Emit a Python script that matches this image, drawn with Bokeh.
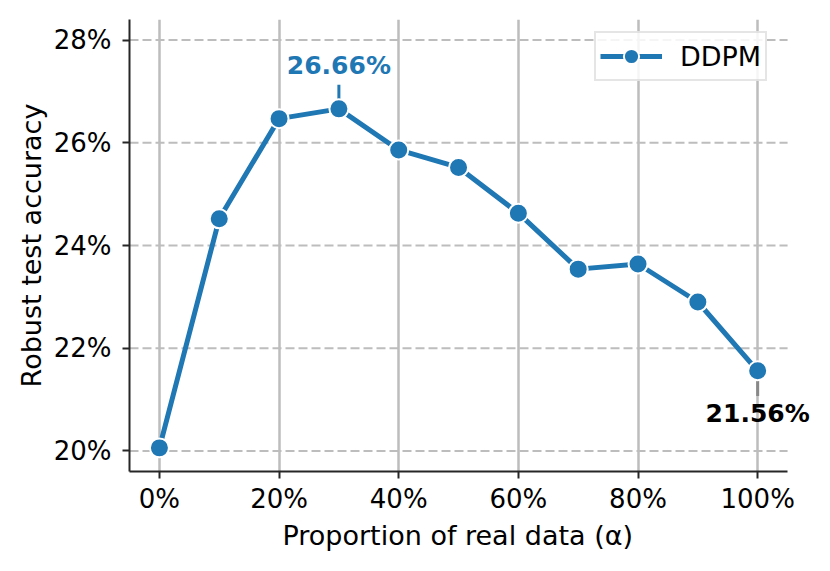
from bokeh.plotting import figure
from bokeh.models import (ColumnDataSource, Range1d, FixedTicker, Legend, LegendItem,
                          CustomJSTickFormatter, Label, Title)
from bokeh.embed import file_html
from bokeh.resources import INLINE

# ---- data ----
proportion = [0, 10, 20, 30, 40, 50, 60, 70, 80, 90, 100]
robust_acc = [20.06, 24.52, 26.47, 26.66, 25.86, 25.52, 24.63, 23.54, 23.64, 22.90, 21.56]
x_ticks = [0, 20, 40, 60, 80, 100]
y_ticks = [20, 22, 24, 26, 28]
series_name = "DDPM"
x_title = "Proportion of real data (α)"
y_title = "Robust test accuracy"
best_x, best_y, best_label = 30, 26.66, "26.66%"
last_x, last_y, last_label = 100, 21.56, "21.56%"

X_LO, X_HI = -5, 105          # visible axis extent
Y_LO, Y_HI = 19.6, 28.4

BLUE = "#1f77b4"
FONT = "DejaVu Sans"

# frame extends a bit past the axis end so the right-hand annotation is not clipped
p = figure(frame_width=685, frame_height=452, output_backend="svg", toolbar_location=None,
           x_range=Range1d(X_LO, 109.5), y_range=Range1d(Y_LO, Y_HI),
           min_border_left=129, min_border_right=8, min_border_top=19, min_border_bottom=10)
p.outline_line_color = None
p.background_fill_color = "white"
p.border_fill_color = "white"

# axes
for ax in (p.xaxis[0], p.yaxis[0]):
    ax.axis_line_color = "#262626"
    ax.axis_line_width = 2
    ax.major_tick_line_color = "#262626"
    ax.major_tick_line_width = 2
    ax.major_tick_out = 7
    ax.major_tick_in = 0
    ax.minor_tick_line_color = None
    ax.major_label_text_font = FONT
    ax.major_label_text_font_size = "26px"
    ax.major_label_text_color = "black"
    ax.axis_label_text_font = FONT
    ax.axis_label_text_font_size = "27px"
    ax.axis_label_text_font_style = "normal"
    ax.axis_label_text_color = "black"

p.xaxis.bounds = (X_LO, X_HI)
p.xaxis.ticker = FixedTicker(ticks=x_ticks)
p.yaxis.ticker = FixedTicker(ticks=y_ticks)
p.xaxis.formatter = CustomJSTickFormatter(code="return tick.toFixed(0) + '%';")
p.yaxis.formatter = CustomJSTickFormatter(code="return tick.toFixed(0) + '%';")
p.yaxis.axis_label = y_title
p.xaxis.major_label_standoff = 5
p.yaxis.major_label_standoff = 11
p.yaxis.axis_label_standoff = 4

# x-axis title centred on the visible axis (not on the wider frame)
p.add_layout(Title(text=x_title, align="left", offset=153, standoff=2,
                   text_font=FONT, text_font_size="27px", text_font_style="normal",
                   text_color="black"), "below")

# grids: vertical solid, horizontal dashed limited to the axis extent
p.xgrid.ticker = FixedTicker(ticks=x_ticks)
p.xgrid.grid_line_color = "#bdbdbd"
p.xgrid.grid_line_width = 2.5
p.ygrid.grid_line_color = None
p.segment(x0=[X_LO] * len(y_ticks), y0=y_ticks, x1=[X_HI] * len(y_ticks), y1=y_ticks,
          line_color="#bdbdbd", line_width=2, line_dash="9 4")

src = ColumnDataSource(dict(x=proportion, y=robust_acc))

# connectors for annotations
p.segment(x0=[best_x], y0=[best_y], x1=[best_x], y1=[27.13], line_color=BLUE, line_width=3)
p.segment(x0=[last_x], y0=[last_y], x1=[last_x], y1=[21.07], line_color="#888888", line_width=3)

ln = p.line("x", "y", source=src, line_color=BLUE, line_width=5)
sc = p.scatter("x", "y", source=src, size=19, fill_color=BLUE, line_color="white", line_width=2)

p.add_layout(Label(x=best_x, y=27.50, text=best_label, text_align="center", text_baseline="middle",
                   text_font=FONT, text_font_size="25px", text_font_style="bold", text_color=BLUE))
p.add_layout(Label(x=last_x, y=20.72, text=last_label, text_align="center", text_baseline="middle",
                   text_font=FONT, text_font_size="25px", text_font_style="bold", text_color="black"))

legend = Legend(items=[LegendItem(label=series_name, renderers=[ln, sc])], location=(465, 390))
legend.margin = 0
legend.padding = 4
legend.glyph_width = 62
legend.glyph_height = 38
legend.label_standoff = 18
legend.label_text_font = FONT
legend.label_text_font_size = "27px"
legend.label_text_color = "black"
legend.border_line_color = "#cccccc"
legend.border_line_width = 2
legend.background_fill_alpha = 0.85
legend.spacing = 0
p.add_layout(legend, "center")

open("out.html", "w").write(file_html(p, INLINE))
